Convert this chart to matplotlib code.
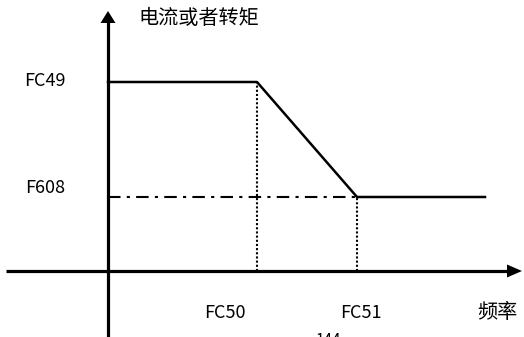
import matplotlib.pyplot as plt

plt.rcParams['font.family'] = ['Noto Sans CJK SC', 'DejaVu Sans']

# schematic levels (origin = axes crossing)
freq_pts = [0, 149, 249, 377]        # 0, FC50, FC51, end
curr_pts = [189, 189, 74, 74]        # FC49, FC49, F608, F608
fc49, f608 = 189, 74
fc50, fc51 = 149, 249
x_ticks = ["FC50", "FC51"]
y_ticks = ["FC49", "F608"]
x_label = "频率"
y_label = "电流或者转矩"
page_no = "144"


def main():
    fig = plt.figure(figsize=(5.24, 3.37), dpi=100)
    ax = fig.add_axes([0, 0, 1, 1])
    ax.set_xlim(-108, 416)
    ax.set_ylim(-66, 271)
    ax.axis('off')

    # axes with arrows
    ax.plot([-102, 402], [0, 0], color='black', lw=2.3, solid_capstyle='butt')
    ax.plot([0, 0], [-66, 250], color='black', lw=2.3, solid_capstyle='butt')
    ax.fill([399, 414, 399], [-6.5, 0, 6.5], color='black', lw=0)
    ax.fill([-7.5, 0, 7.5], [248, 260, 248], color='black', lw=0)

    # guide lines
    ax.plot([fc50, fc50], [0, fc49], color='black', lw=1.5, ls=(0, (1, 1)))
    ax.plot([fc51, fc51], [0, f608], color='black', lw=1.5, ls=(0, (1, 1)))
    ax.plot([0, fc51], [f608, f608], color='black', lw=1.5,
            ls=(0, (6, 3, 1.5, 3)))

    # main curve
    ax.plot(freq_pts, curr_pts, color='black', lw=1.8)

    # labels
    ax.text(-63, fc49 + 1, y_ticks[0], ha='center', va='center', fontsize=13)
    ax.text(-63, f608 + 9, y_ticks[1], ha='center', va='center', fontsize=13)
    ax.text(fc50 - 32, -42, x_ticks[0], ha='center', va='center', fontsize=13)
    ax.text(fc51 + 4, -42, x_ticks[1], ha='center', va='center', fontsize=13)
    ax.text(389, -42, x_label, ha='center', va='center', fontsize=14.5)
    ax.text(91, 253, y_label, ha='center', va='center', fontsize=14.5)
    ax.text(220, -61, page_no, ha='center', va='top', fontsize=11)

    fig.savefig('out.png', dpi=100)


if __name__ == "__main__":
    main()
